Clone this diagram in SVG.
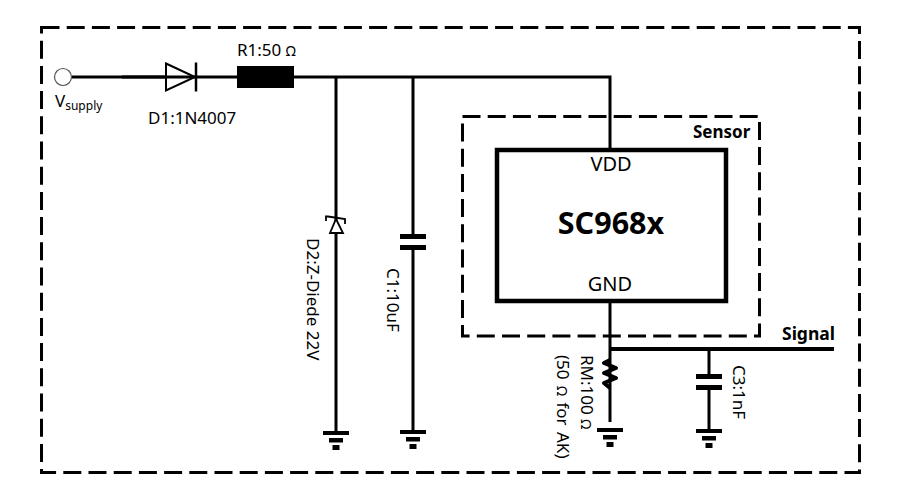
<svg xmlns="http://www.w3.org/2000/svg" width="909" height="501" viewBox="0 0 909 501">
<style>
text{font-family:"Noto Sans","Open Sans","Liberation Sans",sans-serif;fill:#000}
.l{font-size:17px}
.b{font-weight:700}
.w{fill:none;stroke:#000;stroke-width:3}
.d{fill:none;stroke:#000;stroke-width:3;stroke-dasharray:18 7.2}
.g{fill:#000;stroke:none}
</style>
<defs>
<g id="gnd"><rect class="g" x="-13" y="0" width="26" height="4"/><rect class="g" x="-7" y="7" width="14" height="4.500"/><rect class="g" x="-3.500" y="14" width="7" height="5"/></g>
<g id="cap"><rect class="g" x="-13" y="0" width="26" height="5"/><rect class="g" x="-13" y="11" width="26" height="5"/></g>
</defs>
<g id="frames">
<rect id="outer-frame" class="d" x="41.500" y="27.500" width="818" height="445"/>
<rect id="sensor-frame" class="d" x="462.500" y="116.500" width="297" height="219.500"/>
</g>
<g id="connectors">
<path class="w" d="M72 77H166M196 77H238M294 77H610V150"/>
<path class="w" d="M336 77V432"/>
<path class="w" d="M413 77V234M413 248V432"/>
<path class="w" d="M610 301V422"/>
<path class="w" style="stroke-width:4" d="M610 349H834"/>
<path class="w" d="M709 349V376M709 390V430"/>
</g>
<g id="vsupply"><circle cx="63" cy="77" r="8.500" fill="#fff" stroke="#555" stroke-width="1.200"/>
<text class="l" x="55" y="107">V<tspan style="font-size:12px" dy="3">supply</tspan></text></g>
<g id="d1"><path d="M166 63.500L195 77L166 90.500Z" fill="#fff" stroke="#000" stroke-width="2"/><path d="M196 62.500V91.500" stroke="#000" stroke-width="2.500"/><path d="M122 77H196" stroke="#000" stroke-width="3"/>
<text class="l" x="148" y="124">D1:1N4007</text></g>
<g id="r1"><rect class="g" x="237" y="66" width="57" height="22"/>
<text class="l" x="237" y="56">R1:50 <tspan style="font-size:14px">Ω</tspan></text></g>
<g id="d2"><path d="M336 219L343 233H330Z" fill="#fff" stroke="#000" stroke-width="1.800"/><path d="M326 221V216.500H328L345 219V224" fill="none" stroke="#000" stroke-width="1.800"/>
<use href="#gnd" x="336" y="431"/>
<text class="l" transform="translate(307,238) rotate(90)">D2:Z-Diede 22V</text></g>
<g id="c1"><use href="#cap" x="413" y="234"/><use href="#gnd" x="413" y="430"/>
<text class="l" transform="translate(387,268) rotate(90)">C1:10uF</text></g>
<g id="sc968x"><rect x="497" y="150" width="229" height="151" fill="none" stroke="#000" stroke-width="4.500"/>
<text style="font-size:20px" x="611" y="171" text-anchor="middle">VDD</text>
<text class="b" style="font-size:30.500px" x="611" y="234" text-anchor="middle">SC968x</text>
<text style="font-size:20px" x="610" y="291" text-anchor="middle">GND</text></g>
<g id="sensor-label"><text class="b" style="font-size:17px" x="693" y="138">Sensor</text></g>
<g id="signal-label"><text class="b" style="font-size:17.500px" x="782" y="340">Signal</text></g>
<g id="rm"><path d="M610 360L604 363L616 368L604 373L616 378L604 383L610 388" fill="none" stroke="#000" stroke-width="4" stroke-linejoin="round"/><use href="#gnd" x="610" y="428"/>
<text class="l" transform="translate(581,355) rotate(90)">RM:100 <tspan style="font-size:14px">Ω</tspan></text>
<text class="l" transform="translate(557,355) rotate(90)" word-spacing="2">(50 <tspan style="font-size:14px">Ω</tspan> for AK)</text></g>
<g id="c3"><use href="#cap" x="709" y="374"/><use href="#gnd" x="709" y="429"/>
<text class="l" transform="translate(733,365) rotate(90)">C3:1nF</text></g>
</svg>
